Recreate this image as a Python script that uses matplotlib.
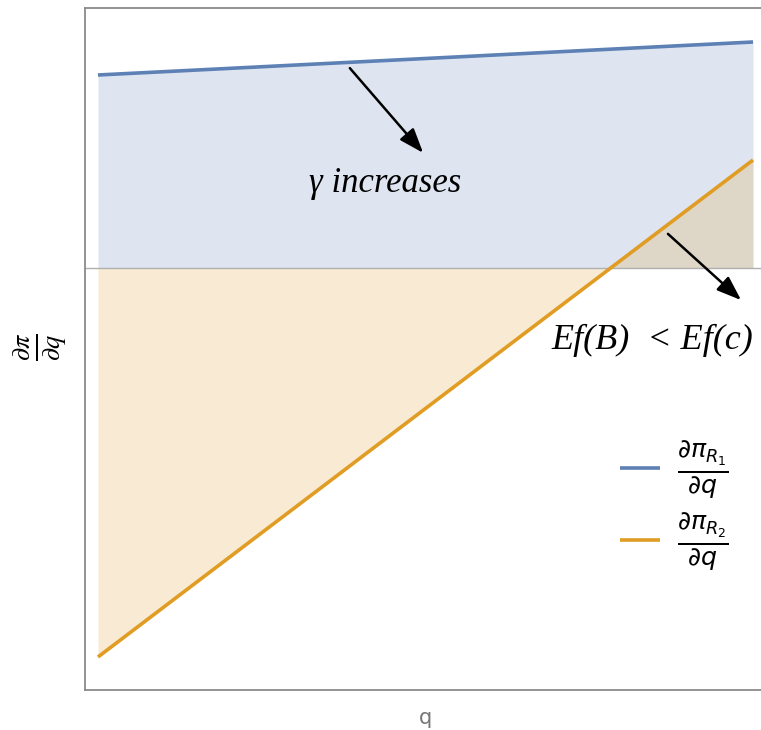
import matplotlib
matplotlib.use("Agg")
import matplotlib.pyplot as plt

# Data
q = [0.0, 1.0]
dpi_R1 = [1.93, 2.26]
dpi_R2 = [-3.89, 1.08]
legend_labels = [r"$\frac{\partial\pi_{R_1}}{\partial q}$", r"$\frac{\partial\pi_{R_2}}{\partial q}$"]

blue = "#5e81b5"
orange = "#e19c24"

fig = plt.figure(figsize=(7.61, 7.30), dpi=100)
ax = fig.add_axes([85/761, 40/730, 1 - 85/761, 682/730])

ax.fill_between(q, dpi_R1, 0, color=blue, alpha=0.2, linewidth=0)
ax.fill_between(q, dpi_R2, 0, color=orange, alpha=0.2, linewidth=0)
ax.axhline(0, color="#b0b0b0", linewidth=1.0, zorder=1)
l1, = ax.plot(q, dpi_R1, color=blue, linewidth=2.6, solid_capstyle="butt")
l2, = ax.plot(q, dpi_R2, color=orange, linewidth=2.6, solid_capstyle="butt")

ax.set_xlim(-0.0198, 1.0122)
ax.set_ylim(-4.22, 2.60)
ax.set_xticks([])
ax.set_yticks([])
for s in ["left", "bottom", "top"]:
    ax.spines[s].set_color("#8a8a8a")
    ax.spines[s].set_linewidth(1.3)
ax.spines["right"].set_visible(False)

# annotations
ax.annotate("", xy=(0.4992, 1.13), xytext=(0.3817, 2.02),
            arrowprops=dict(arrowstyle="-|>,head_length=1.5,head_width=0.55", color="black", lw=1.8))
ax.annotate("", xy=(0.985, -0.34), xytext=(0.867, 0.36),
            arrowprops=dict(arrowstyle="-|>,head_length=1.5,head_width=0.55", color="black", lw=1.8))
ax.text(0.438, 0.85, "γ increases", fontsize=25, style="italic", family="Liberation Serif",
        ha="center", va="center")
ax.text(0.847, -0.72, "Ef(B)  < Ef(c)", fontsize=26, style="italic", family="Liberation Serif",
        ha="center", va="center")

# legend
ax.legend([l1, l2], legend_labels, loc="center left", bbox_to_anchor=((620 - 85)/676, 1 - (506 - 8)/682),
          frameon=False, fontsize=26, handlelength=1.1, labelspacing=0.3, handletextpad=0.47,
          borderaxespad=0, borderpad=0)

fig.text(40/761, 1 - 347/730, r"$\frac{\partial\pi}{\partial q}$", rotation=90, fontsize=27,
         ha="center", va="center", math_fontfamily="stix")
fig.text(426/761, 1 - 718/730, "q", fontsize=15, color="#777777", ha="center", va="center")

fig.savefig("out.png", dpi=100)
